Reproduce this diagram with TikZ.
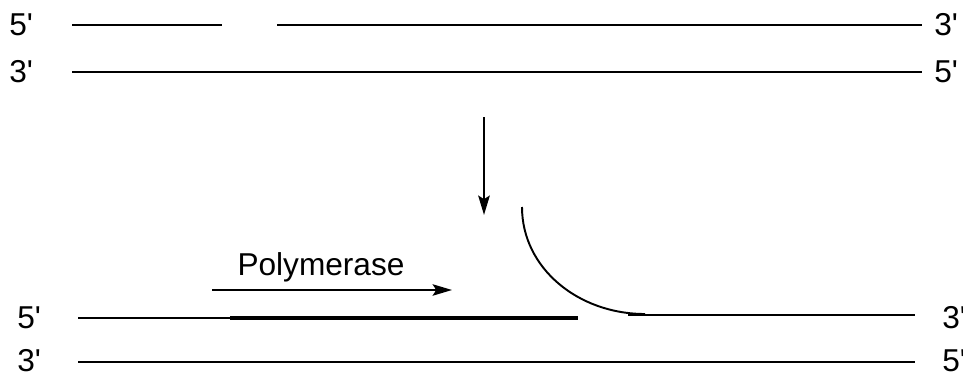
\documentclass[tikz,border=0pt]{standalone}
\usepackage{fontspec}
\setmainfont{Liberation Sans}
\usetikzlibrary{arrows.meta}
\newcommand{\pr}{\textquotesingle}
\tikzset{
  strand/.style={line width=1.1pt},
  primer/.style={line width=2.8pt},
  endlabel/.style={font=\fontsize{18}{20}\selectfont,inner sep=0pt},
  headarrow/.style={strand,-{Stealth[length=11pt,width=6.5pt,inset=2pt]}},
}
\begin{document}
\begin{tikzpicture}[x=0.02cm,y=-0.02cm]
  \useasboundingbox (0,0) rectangle (963,376);
  %% nicked duplex
  \coordinate (A1) at (72,25);   \coordinate (A2) at (222,25);
  \coordinate (A3) at (277,25);  \coordinate (A4) at (922,25);
  \coordinate (B1) at (72,72);   \coordinate (B2) at (922,72);
  \draw[strand] (A1) -- (A2);
  \draw[strand] (A3) -- (A4);
  \draw[strand] (B1) -- (B2);
  \node[endlabel,anchor=west] at (9,25) {5\pr};
  \node[endlabel,anchor=west] at (934,25) {3\pr};
  \node[endlabel,anchor=west] at (9,72) {3\pr};
  \node[endlabel,anchor=west] at (934,72) {5\pr};
  %% step arrow
  \coordinate (S1) at (484,117); \coordinate (S2) at (484,215);
  \draw[headarrow,line width=1.6pt] (S1) -- (S2);
  %% displaced strand and new synthesis
  \coordinate (C1) at (78,318);  \coordinate (C2) at (230,318);
  \coordinate (C3) at (578,318); \coordinate (C4) at (628,315);
  \coordinate (C5) at (915,315); \coordinate (F1) at (522,207);
  \coordinate (F2) at (645,314);
  \coordinate (D1) at (78,362);  \coordinate (D2) at (915,362);
  \draw[strand] (C1) -- (C2);
  \draw[primer] (C2) -- (C3);
  \draw[strand] (C4) -- (C5);
  \draw[strand] (F1) .. controls (522,268) and (578,314) .. (F2);
  \draw[strand] (D1) -- (D2);
  \node[endlabel,anchor=west] at (17,318) {5\pr};
  \node[endlabel,anchor=west] at (942,318) {3\pr};
  \node[endlabel,anchor=west] at (17,361) {3\pr};
  \node[endlabel,anchor=west] at (942,361) {5\pr};
  %% polymerase
  \node[endlabel] (pol) at (321,267) {Polymerase};
  \coordinate (P1) at (212,290); \coordinate (P2) at (452,290);
  \draw[headarrow] (P1) -- (P2);
\end{tikzpicture}
\end{document}
